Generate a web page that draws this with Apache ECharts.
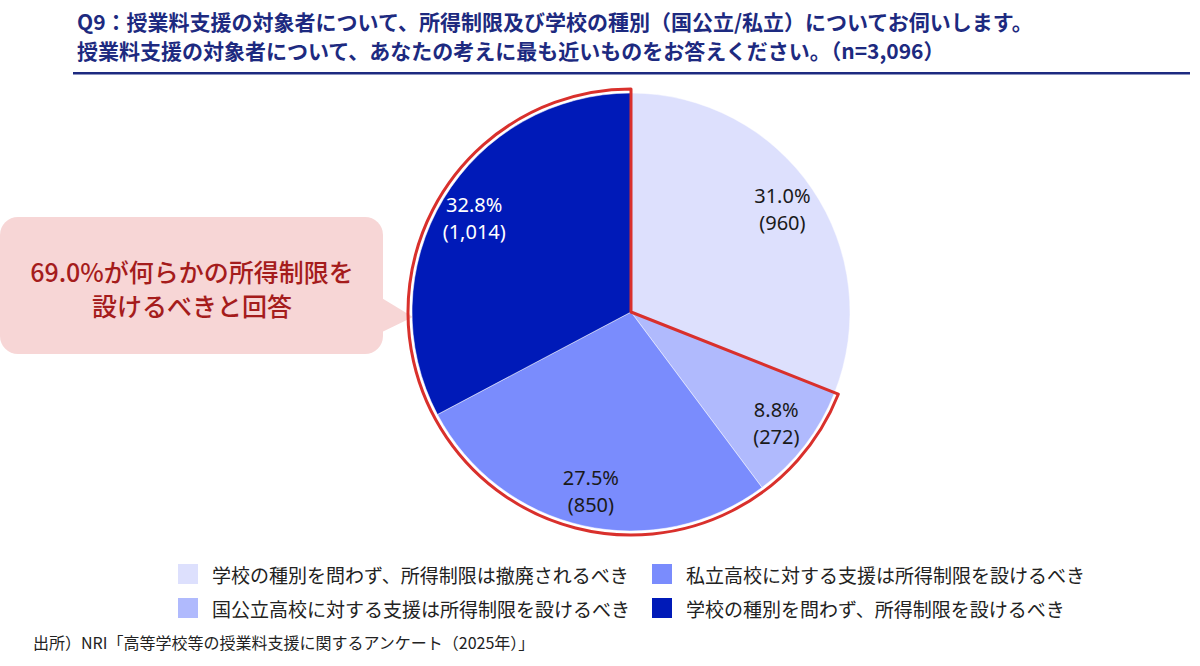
<!DOCTYPE html>
<html><head><meta charset="utf-8">
<script src="https://cdn.jsdelivr.net/npm/echarts@6/dist/echarts.min.js"></script>
<style>html,body{margin:0;padding:0;background:#fff}#c{width:1200px;height:666px}</style>
</head><body><div id="c"></div>
<script>
const categories = [
  '学校の種別を問わず、所得制限は撤廃されるべき',
  '国公立高校に対する支援は所得制限を設けるべき',
  '私立高校に対する支援は所得制限を設けるべき',
  '学校の種別を問わず、所得制限を設けるべき'
];
const counts = [960, 272, 850, 1014];
const percents = [31.0, 8.8, 27.5, 32.8];
const colors = ['#dde0fd', '#b0bafd', '#7a8cfd', '#001ab8'];
const labelColors = ['#1a1a1a', '#1a1a1a', '#1a1a1a', '#ffffff'];
const titleLines = [
  'Q9：授業料支援の対象者について、所得制限及び学校の種別（国公立/私立）についてお伺いします。',
  '授業料支援の対象者について、あなたの考えに最も近いものをお答えください。（n=3,096）'
];
const calloutLines = ['69.0%が何らかの所得制限を', '設けるべきと回答'];
const sourceText = '出所）NRI「高等学校等の授業料支援に関するアンケート（2025年）」';

const JP = '"Noto Sans CJK JP", "Noto Sans", sans-serif';
const chart = echarts.init(document.getElementById('c'), null, {renderer: 'svg'});

const mainData = categories.map((n, i) => ({name: n, value: counts[i], itemStyle: {color: colors[i]}}));
const labelData = categories.map((n, i) => ({
  name: 'lbl' + i, value: counts[i],
  label: {color: labelColors[i]},
  lab: percents[i].toFixed(1) + '%\n(' + counts[i].toLocaleString('en-US') + ')'
}));
const restSum = counts.slice(1).reduce((a, b) => a + b, 0);

const legendBase = {
  orient: 'vertical', top: 562, padding: 0, itemWidth: 22, itemHeight: 22, itemGap: 10,
  icon: 'rect', selectedMode: false,
  textStyle: {fontSize: 19, color: '#222', fontFamily: JP, padding: [0, 0, 0, 8]}
};

chart.setOption({
  animation: false,
  legend: [
    Object.assign({}, legendBase, {left: 176, data: [categories[0], categories[1]]}),
    Object.assign({}, legendBase, {left: 650, data: [categories[2], categories[3]]})
  ],
  series: [
    {
      type: 'pie', center: [631, 312], radius: 219, startAngle: 90, clockwise: true,
      silent: true, label: {show: false}, labelLine: {show: false},
      itemStyle: {borderColor: '#ffffff', borderWidth: 0.5},
      data: mainData
    },
    {
      type: 'pie', center: [631, 312], radius: [141, 219], startAngle: 90, clockwise: true,
      silent: true, itemStyle: {color: 'rgba(0,0,0,0)'}, labelLine: {show: false},
      label: {
        show: true, position: 'inside', fontSize: 20, lineHeight: 27,
        fontFamily: '"Noto Sans", sans-serif',
        formatter: p => p.data.lab
      },
      data: labelData
    },
    {
      type: 'pie', center: [631, 312], radius: 223, startAngle: 90, clockwise: true,
      silent: true, label: {show: false}, labelLine: {show: false}, z: 5,
      data: [
        {name: 'outline0', value: counts[0], itemStyle: {color: 'rgba(0,0,0,0)', borderWidth: 0}},
        {name: 'outline1', value: restSum, itemStyle: {color: 'rgba(0,0,0,0)', borderColor: '#d9302c', borderWidth: 3}}
      ]
    }
  ],
  graphic: [
    {type: 'text', x: 77, y: 21, style: {text: titleLines[0], font: 'bold 21px ' + JP, fill: '#1d2a80', textVerticalAlign: 'middle'}},
    {type: 'text', x: 77, y: 50, style: {text: titleLines[1], font: 'bold 21px ' + JP, fill: '#1d2a80', textVerticalAlign: 'middle'}},
    {type: 'rect', shape: {x: 73, y: 72, width: 1117, height: 2.5}, style: {fill: '#1d2a80'}},
    {type: 'rect', shape: {x: 0, y: 217, width: 383, height: 137, r: 18}, style: {fill: '#f7d6d6'}},
    {type: 'polygon', shape: {points: [[380, 297], [413, 317], [380, 333]]}, style: {fill: '#f7d6d6'}},
    {type: 'text', x: 192, y: 271, style: {text: calloutLines[0], font: '500 25px ' + JP, fill: '#a51c1c', textAlign: 'center', textVerticalAlign: 'middle'}},
    {type: 'text', x: 192, y: 305, style: {text: calloutLines[1], font: '500 25px ' + JP, fill: '#a51c1c', textAlign: 'center', textVerticalAlign: 'middle'}},
    {type: 'text', x: 33, y: 642, style: {text: sourceText, font: '16px ' + JP, fill: '#222', textVerticalAlign: 'middle'}}
  ]
});
</script></body></html>
